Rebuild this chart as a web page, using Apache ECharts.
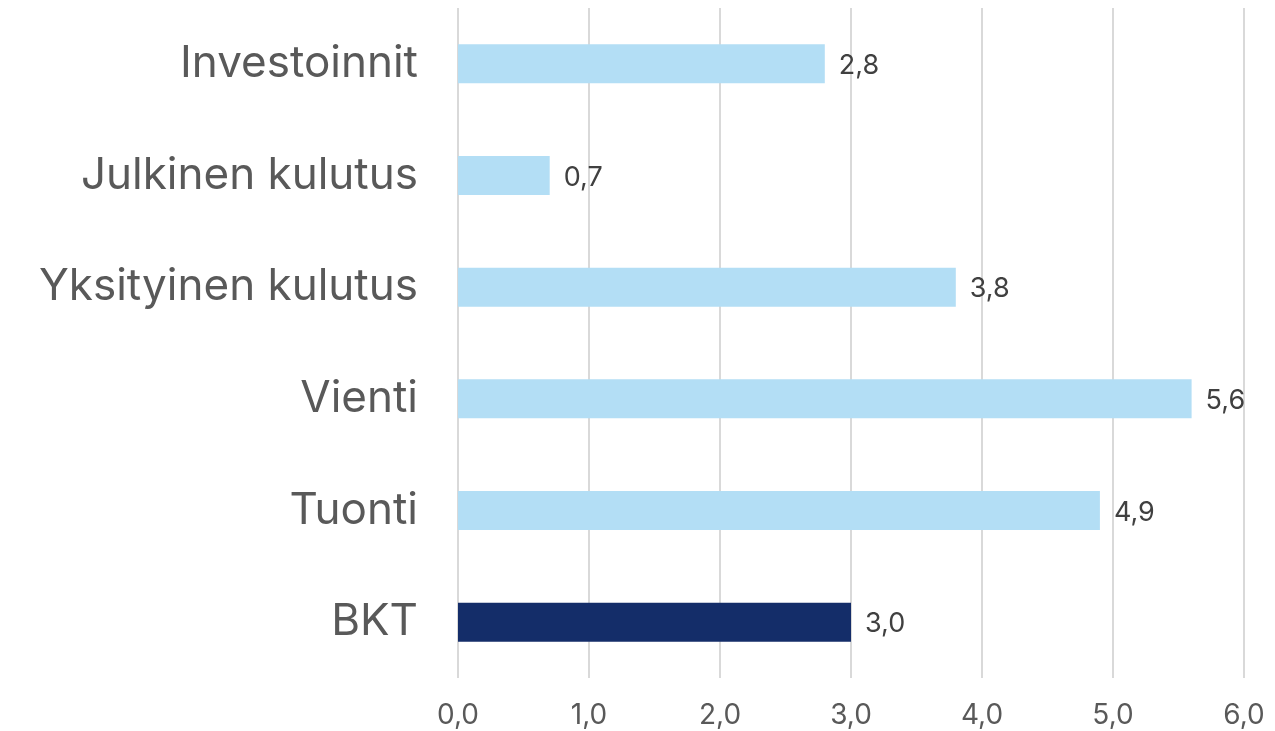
<!DOCTYPE html>
<html>
<head>
<meta charset="utf-8">
<script src="https://cdn.jsdelivr.net/npm/echarts@6/dist/echarts.min.js"></script>
<style>
    html, body { margin: 0; padding: 0; background: #fff; }
    #chart { width: 1275px; height: 731px; }
</style>
</head>
<body>
<div id="chart"></div>
<script>
var categories = ['Investoinnit', 'Julkinen kulutus', 'Yksityinen kulutus', 'Vienti', 'Tuonti', 'BKT'];
var values = [2.8, 0.7, 3.8, 5.6, 4.9, 3.0];
var barColors = ['#b3def5', '#b3def5', '#b3def5', '#b3def5', '#b3def5', '#142d69'];

// suomalainen desimaalipilkku
function fiNum(v) {
    return Number(v).toFixed(1).replace('.', ',');
}

var myChart = echarts.init(document.getElementById('chart'));
var option = {
    animation: false,
    grid: {
        left: 458,
        right: 31,
        top: 8,
        bottom: 53
    },
    xAxis: {
        type: 'value',
        min: 0,
        max: 6,
        interval: 1,
        axisLine: { show: false },
        axisTick: { show: false },
        splitLine: { show: true, lineStyle: { color: '#d9d9d9', width: 2 } },
        axisLabel: {
            formatter: fiNum,
            color: '#595959',
            fontSize: 28,
            fontFamily: 'Inter',
            margin: 24
        }
    },
    yAxis: {
        type: 'category',
        inverse: true,
        data: categories,
        axisLine: { show: false },
        axisTick: { show: false },
        axisLabel: {
            color: '#595959',
            fontSize: 44,
            fontFamily: 'Inter',
            margin: 40
        }
    },
    series: [
        {
            type: 'bar',
            barWidth: 39,
            data: values.map(function (v, i) {
                return { value: v, itemStyle: { color: barColors[i] } };
            }),
            label: {
                show: true,
                position: 'right',
                distance: 14,
                offset: [0, 2],
                color: '#404040',
                fontSize: 27,
                fontFamily: 'Inter',
                formatter: function (p) { return fiNum(p.value); }
            }
        }
    ]
};
myChart.setOption(option, true);
</script>
</body>
</html>
